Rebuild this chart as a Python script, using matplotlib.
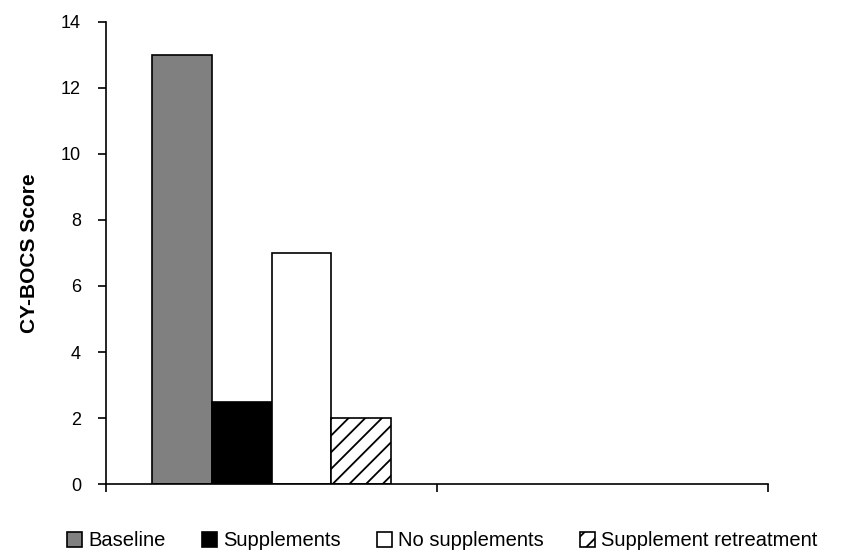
import numpy as np
import matplotlib.pyplot as plt
from matplotlib.ticker import FixedLocator

plt.rcParams["font.family"] = ["Liberation Sans", "DejaVu Sans"]
plt.rcParams["hatch.linewidth"] = 1.3

# two category slots on the x axis, only the first one carries data
categories = ["", ""]
series = ["Baseline", "Supplements", "No supplements", "Supplement retreatment"]
baseline = [13, np.nan]
supplements = [2.5, np.nan]
no_supplements = [7, np.nan]
retreatment = [2, np.nan]
values = [baseline, supplements, no_supplements, retreatment]

colors = ["#808080", "black", "white", "white"]
hatches = [None, None, None, "//"]

fig = plt.figure(figsize=(8.42, 5.55), dpi=100, facecolor="white")
ax = fig.add_axes([0.1259, 0.1279, 0.7862, 0.8325])

x = np.arange(len(categories))
width = 0.181
for i, (name, vals) in enumerate(zip(series, values)):
    offs = (i - 1.5) * width
    ax.bar(x + offs, vals, width, color=colors[i], edgecolor="black",
           linewidth=1.2, hatch=hatches[i], label=name)

ax.set_xlim(-0.5, 1.5)
ax.set_ylim(0, 14)
ax.yaxis.set_major_locator(FixedLocator(range(0, 15, 2)))
ax.xaxis.set_major_locator(FixedLocator([-0.5, 0.5, 1.5]))
ax.set_xticklabels([])

ax.tick_params(axis="y", direction="out", length=6, width=1.2, labelsize=13, pad=12)
ax.tick_params(axis="x", direction="out", length=6, width=1.2)

for b in ["top", "right"]:
    ax.spines[b].set_visible(False)
for b in ["left", "bottom"]:
    ax.spines[b].set_linewidth(1.2)

ax.set_ylabel("CY-BOCS Score", fontsize=15, fontweight="bold", labelpad=16)

ax.legend(loc="center", bbox_to_anchor=(0.508, -0.123), ncol=4, frameon=False,
          fontsize=14.5, handlelength=0.75, handleheight=0.75, handletextpad=0.3,
          columnspacing=1.8, borderaxespad=0)

plt.savefig("out.png", dpi=100, facecolor="white")
